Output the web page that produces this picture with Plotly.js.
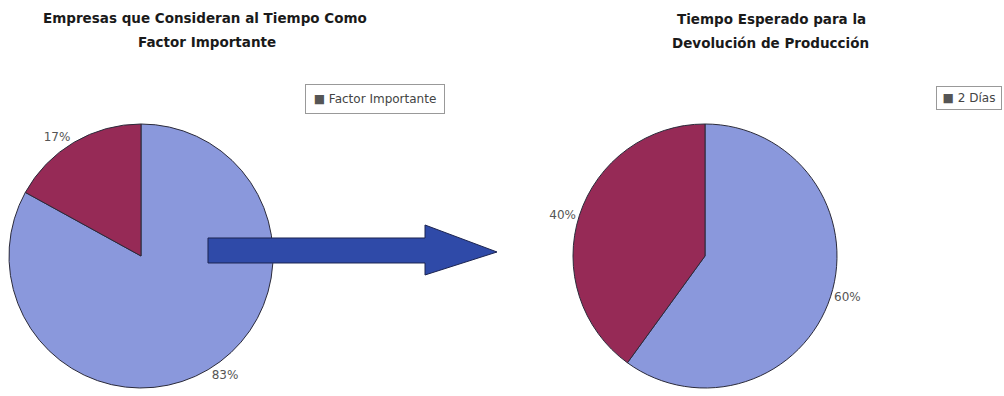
<!DOCTYPE html>
<html>
<head>
<meta charset="utf-8">
<script src="https://cdn.plot.ly/plotly-3.0.1.min.js"></script>
<style>html,body{margin:0;padding:0;background:#fff;}#chart{width:1004px;height:396px;}</style>
</head>
<body>
<div id="chart"></div>
<script>
// Data
const leftLabels = ['Factor Importante', 'Otros'];
const leftValues = [83, 17];
const rightLabels = ['2 Días', 'Otros'];
const rightValues = [60, 40];
const leftTitle = ['Empresas que Consideran al Tiempo Como', 'Factor Importante'];
const rightTitle = ['Tiempo Esperado para la', 'Devolución de Producción'];
const leftLegend = 'Factor Importante';
const rightLegend = '2 Días';

const W = 1004, H = 396;
const px = x => x / W;
const py = y => 1 - y / H;

const sliceColors = ['#8a98dc', '#962a56'];
const font = '"DejaVu Sans", Arial, sans-serif';

function pieTrace(labels, values, cx, cy, r) {
  return {
    type: 'pie',
    labels: labels,
    values: values,
    sort: false,
    direction: 'clockwise',
    rotation: 0,
    textinfo: 'percent',
    textposition: 'outside',
    texttemplate: '%{percent:.0%}',
    outsidetextfont: {family: font, size: 12, color: '#555'},
    marker: {colors: sliceColors, line: {color: '#2a2a3a', width: 1}},
    domain: {x: [px(cx - r), px(cx + r)], y: [py(cy + r), py(cy - r)]},
    hoverinfo: 'label+percent',
    showlegend: false
  };
}

const data = [
  pieTrace(leftLabels, leftValues, 141, 256, 132),
  pieTrace(rightLabels, rightValues, 705, 256, 132)
];

function titleAnn(text, x, y) {
  return {text: text, x: px(x), y: py(y), xref: 'paper', yref: 'paper',
    showarrow: false, xanchor: 'center', yanchor: 'middle',
    font: {family: font, size: 13.5, color: '#1a1a1a', weight: 'bold'}};
}
function legendAnn(text, cx, cy, w, h) {
  return {text: '<span style="color:#555">■</span> ' + text, x: px(cx), y: py(cy),
    xref: 'paper', yref: 'paper', showarrow: false, xanchor: 'center', yanchor: 'middle',
    width: w, height: h, bordercolor: '#999', borderwidth: 1, borderpad: 1, bgcolor: '#fff',
    font: {family: font, size: 12, color: '#444'}};
}

const arrowPts = [[208,238],[425,238],[425,225],[497,252],[425,275],[425,263],[208,263]];
const arrowPath = 'M ' + arrowPts.map(p => px(p[0]).toFixed(5) + ',' + py(p[1]).toFixed(5)).join(' L ') + ' Z';

const layout = {
  width: W, height: H,
  margin: {l: 0, r: 0, t: 0, b: 0},
  paper_bgcolor: '#fff',
  showlegend: false,
  annotations: [
    titleAnn(leftTitle[0], 205, 18),
    titleAnn(leftTitle[1], 207, 42),
    titleAnn(rightTitle[0], 771, 19),
    titleAnn(rightTitle[1], 770, 43),
    legendAnn(leftLegend, 375, 99, 136, 26),
    legendAnn(rightLegend, 969, 98, 62, 20)
  ],
  shapes: [{
    type: 'path', xref: 'paper', yref: 'paper', path: arrowPath,
    fillcolor: '#2f4aa8', line: {color: '#1c2450', width: 1}, layer: 'above'
  }]
};

Plotly.newPlot('chart', data, layout, {displayModeBar: false, staticPlot: true});
</script>
</body>
</html>
